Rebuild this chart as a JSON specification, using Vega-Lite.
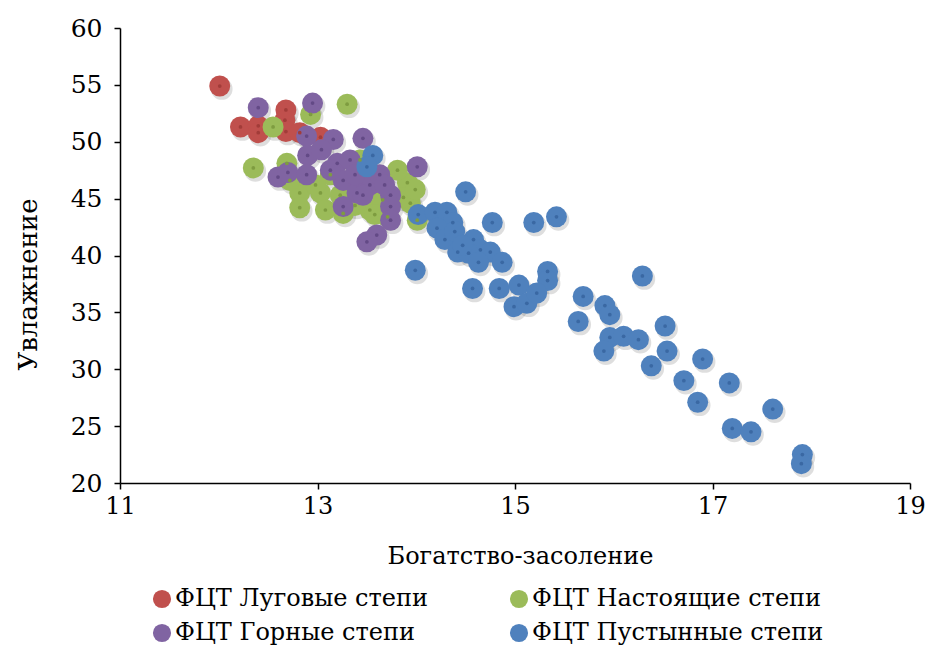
{
  "$schema": "https://vega.github.io/schema/vega-lite/v6.json",
  "width": 790,
  "height": 455,
  "autosize": "none",
  "padding": {"left": 120, "top": 28, "right": 17, "bottom": 165},
  "background": "white",
  "config": {
    "view": {"stroke": null},
    "font": "DejaVu Serif"
  },
  "data": {
    "values": [
      {"x": 12.01, "y": 54.9, "g": "ФЦТ Луговые степи"},
      {"x": 12.22, "y": 51.3, "g": "ФЦТ Луговые степи"},
      {"x": 12.40, "y": 51.4, "g": "ФЦТ Луговые степи"},
      {"x": 12.40, "y": 50.8, "g": "ФЦТ Луговые степи"},
      {"x": 12.68, "y": 52.8, "g": "ФЦТ Луговые степи"},
      {"x": 12.67, "y": 51.9, "g": "ФЦТ Луговые степи"},
      {"x": 12.68, "y": 50.9, "g": "ФЦТ Луговые степи"},
      {"x": 12.82, "y": 50.8, "g": "ФЦТ Луговые степи"},
      {"x": 13.03, "y": 50.4, "g": "ФЦТ Луговые степи"},
      {"x": 13.30, "y": 53.3, "g": "ФЦТ Настоящие степи"},
      {"x": 12.93, "y": 52.4, "g": "ФЦТ Настоящие степи"},
      {"x": 12.55, "y": 51.3, "g": "ФЦТ Настоящие степи"},
      {"x": 12.35, "y": 47.7, "g": "ФЦТ Настоящие степи"},
      {"x": 12.82, "y": 45.5, "g": "ФЦТ Настоящие степи"},
      {"x": 12.82, "y": 44.2, "g": "ФЦТ Настоящие степи"},
      {"x": 13.03, "y": 45.5, "g": "ФЦТ Настоящие степи"},
      {"x": 13.53, "y": 44.0, "g": "ФЦТ Настоящие степи"},
      {"x": 13.91, "y": 46.4, "g": "ФЦТ Настоящие степи"},
      {"x": 14.01, "y": 43.1, "g": "ФЦТ Настоящие степи"},
      {"x": 13.81, "y": 47.5, "g": "ФЦТ Настоящие степи"},
      {"x": 12.69, "y": 48.1, "g": "ФЦТ Настоящие степи"},
      {"x": 12.72, "y": 46.6, "g": "ФЦТ Настоящие степи"},
      {"x": 13.26, "y": 43.7, "g": "ФЦТ Настоящие степи"},
      {"x": 13.71, "y": 43.4, "g": "ФЦТ Настоящие степи"},
      {"x": 13.94, "y": 44.6, "g": "ФЦТ Настоящие степи"},
      {"x": 13.87, "y": 45.1, "g": "ФЦТ Настоящие степи"},
      {"x": 13.13, "y": 47.1, "g": "ФЦТ Настоящие степи"},
      {"x": 13.23, "y": 45.3, "g": "ФЦТ Настоящие степи"},
      {"x": 13.38, "y": 44.4, "g": "ФЦТ Настоящие степи"},
      {"x": 13.99, "y": 45.8, "g": "ФЦТ Настоящие степи"},
      {"x": 13.08, "y": 44.0, "g": "ФЦТ Настоящие степи"},
      {"x": 13.43, "y": 48.4, "g": "ФЦТ Настоящие степи"},
      {"x": 13.66, "y": 44.9, "g": "ФЦТ Настоящие степи"},
      {"x": 12.98, "y": 46.2, "g": "ФЦТ Настоящие степи"},
      {"x": 13.58, "y": 43.6, "g": "ФЦТ Настоящие степи"},
      {"x": 12.40, "y": 53.0, "g": "ФЦТ Горные степи"},
      {"x": 12.95, "y": 53.4, "g": "ФЦТ Горные степи"},
      {"x": 12.89, "y": 50.5, "g": "ФЦТ Горные степи"},
      {"x": 13.16, "y": 50.2, "g": "ФЦТ Горные степи"},
      {"x": 13.46, "y": 50.3, "g": "ФЦТ Горные степи"},
      {"x": 12.90, "y": 48.8, "g": "ФЦТ Горные степи"},
      {"x": 13.04, "y": 49.3, "g": "ФЦТ Горные степи"},
      {"x": 13.20, "y": 48.1, "g": "ФЦТ Горные степи"},
      {"x": 13.33, "y": 48.4, "g": "ФЦТ Горные степи"},
      {"x": 12.60, "y": 46.9, "g": "ФЦТ Горные степи"},
      {"x": 12.70, "y": 47.3, "g": "ФЦТ Горные степи"},
      {"x": 12.89, "y": 47.1, "g": "ФЦТ Горные степи"},
      {"x": 13.26, "y": 46.6, "g": "ФЦТ Горные степи"},
      {"x": 13.53, "y": 46.2, "g": "ФЦТ Горные степи"},
      {"x": 13.40, "y": 45.5, "g": "ФЦТ Горные степи"},
      {"x": 13.74, "y": 45.3, "g": "ФЦТ Горные степи"},
      {"x": 13.74, "y": 44.3, "g": "ФЦТ Горные степи"},
      {"x": 13.26, "y": 44.3, "g": "ФЦТ Горные степи"},
      {"x": 13.74, "y": 43.1, "g": "ФЦТ Горные степи"},
      {"x": 13.60, "y": 41.8, "g": "ФЦТ Горные степи"},
      {"x": 13.50, "y": 41.2, "g": "ФЦТ Горные степи"},
      {"x": 14.01, "y": 47.8, "g": "ФЦТ Горные степи"},
      {"x": 13.46, "y": 45.3, "g": "ФЦТ Горные степи"},
      {"x": 13.63, "y": 47.1, "g": "ФЦТ Горные степи"},
      {"x": 13.68, "y": 46.2, "g": "ФЦТ Горные степи"},
      {"x": 13.13, "y": 47.5, "g": "ФЦТ Горные степи"},
      {"x": 13.38, "y": 47.1, "g": "ФЦТ Горные степи"},
      {"x": 13.56, "y": 48.8, "g": "ФЦТ Пустынные степи"},
      {"x": 13.50, "y": 47.8, "g": "ФЦТ Пустынные степи"},
      {"x": 14.02, "y": 43.6, "g": "ФЦТ Пустынные степи"},
      {"x": 14.50, "y": 45.6, "g": "ФЦТ Пустынные степи"},
      {"x": 14.19, "y": 43.8, "g": "ФЦТ Пустынные степи"},
      {"x": 14.31, "y": 43.8, "g": "ФЦТ Пустынные степи"},
      {"x": 14.37, "y": 42.9, "g": "ФЦТ Пустынные степи"},
      {"x": 14.21, "y": 42.4, "g": "ФЦТ Пустынные степи"},
      {"x": 14.77, "y": 42.9, "g": "ФЦТ Пустынные степи"},
      {"x": 14.29, "y": 41.4, "g": "ФЦТ Пустынные степи"},
      {"x": 14.58, "y": 41.4, "g": "ФЦТ Пустынные степи"},
      {"x": 14.65, "y": 40.5, "g": "ФЦТ Пустынные степи"},
      {"x": 14.42, "y": 40.3, "g": "ФЦТ Пустынные степи"},
      {"x": 14.53, "y": 40.2, "g": "ФЦТ Пустынные степи"},
      {"x": 14.75, "y": 40.3, "g": "ФЦТ Пустынные степи"},
      {"x": 14.87, "y": 39.4, "g": "ФЦТ Пустынные степи"},
      {"x": 14.63, "y": 39.4, "g": "ФЦТ Пустынные степи"},
      {"x": 14.39, "y": 42.1, "g": "ФЦТ Пустынные степи"},
      {"x": 14.47, "y": 40.9, "g": "ФЦТ Пустынные степи"},
      {"x": 13.99, "y": 38.7, "g": "ФЦТ Пустынные степи"},
      {"x": 15.19, "y": 42.9, "g": "ФЦТ Пустынные степи"},
      {"x": 15.42, "y": 43.4, "g": "ФЦТ Пустынные степи"},
      {"x": 14.57, "y": 37.1, "g": "ФЦТ Пустынные степи"},
      {"x": 14.84, "y": 37.1, "g": "ФЦТ Пустынные степи"},
      {"x": 15.04, "y": 37.4, "g": "ФЦТ Пустынные степи"},
      {"x": 15.33, "y": 38.6, "g": "ФЦТ Пустынные степи"},
      {"x": 15.33, "y": 37.8, "g": "ФЦТ Пустынные степи"},
      {"x": 14.99, "y": 35.5, "g": "ФЦТ Пустынные степи"},
      {"x": 15.12, "y": 35.8, "g": "ФЦТ Пустынные степи"},
      {"x": 15.22, "y": 36.7, "g": "ФЦТ Пустынные степи"},
      {"x": 15.69, "y": 36.4, "g": "ФЦТ Пустынные степи"},
      {"x": 15.91, "y": 35.6, "g": "ФЦТ Пустынные степи"},
      {"x": 15.96, "y": 34.8, "g": "ФЦТ Пустынные степи"},
      {"x": 15.64, "y": 34.2, "g": "ФЦТ Пустынные степи"},
      {"x": 16.29, "y": 38.2, "g": "ФЦТ Пустынные степи"},
      {"x": 16.52, "y": 33.8, "g": "ФЦТ Пустынные степи"},
      {"x": 15.96, "y": 32.8, "g": "ФЦТ Пустынные степи"},
      {"x": 16.10, "y": 32.9, "g": "ФЦТ Пустынные степи"},
      {"x": 16.25, "y": 32.6, "g": "ФЦТ Пустынные степи"},
      {"x": 15.90, "y": 31.6, "g": "ФЦТ Пустынные степи"},
      {"x": 16.54, "y": 31.6, "g": "ФЦТ Пустынные степи"},
      {"x": 16.38, "y": 30.3, "g": "ФЦТ Пустынные степи"},
      {"x": 16.90, "y": 30.9, "g": "ФЦТ Пустынные степи"},
      {"x": 16.71, "y": 29.0, "g": "ФЦТ Пустынные степи"},
      {"x": 17.17, "y": 28.8, "g": "ФЦТ Пустынные степи"},
      {"x": 16.85, "y": 27.1, "g": "ФЦТ Пустынные степи"},
      {"x": 17.61, "y": 26.5, "g": "ФЦТ Пустынные степи"},
      {"x": 17.20, "y": 24.8, "g": "ФЦТ Пустынные степи"},
      {"x": 17.39, "y": 24.5, "g": "ФЦТ Пустынные степи"},
      {"x": 17.91, "y": 22.5, "g": "ФЦТ Пустынные степи"},
      {"x": 17.90, "y": 21.7, "g": "ФЦТ Пустынные степи"}
    ]
  },
  "encoding": {
    "x": {
      "field": "x", "type": "quantitative",
      "scale": {"domain": [11, 19], "nice": false, "zero": false},
      "axis": {
        "title": "Богатство-засоление",
        "values": [11, 13, 15, 17, 19],
        "grid": false,
        "domainColor": "black", "domainWidth": 1.5,
        "tickColor": "black", "tickSize": 6, "tickWidth": 1.5,
        "labelFont": "DejaVu Serif", "labelFontSize": 24, "labelColor": "black",
        "labelPadding": 5, "labelFlush": false,
        "titleFont": "DejaVu Serif", "titleFontSize": 24, "titleFontWeight": "normal", "titleColor": "black",
        "titleBaseline": "alphabetic", "titleX": 400, "titleY": 80
      }
    },
    "y": {
      "field": "y", "type": "quantitative",
      "scale": {"domain": [20, 60], "nice": false, "zero": false},
      "axis": {
        "title": "Увлажнение",
        "values": [20, 25, 30, 35, 40, 45, 50, 55, 60],
        "grid": false,
        "domainColor": "black", "domainWidth": 1.5,
        "tickColor": "black", "tickSize": 6, "tickWidth": 1.5,
        "labelFont": "DejaVu Serif", "labelFontSize": 25, "labelColor": "black",
        "labelPadding": 12, "labelFlush": false,
        "titleFont": "DejaVu Serif", "titleFontSize": 26, "titleFontWeight": "normal", "titleColor": "black",
        "titleBaseline": "alphabetic", "titleX": -84, "titleY": 256, "titleAngle": -90
      }
    }
  },
  "layer": [
    {
      "mark": {"type": "circle", "size": 470, "color": "#000000", "opacity": 0.13, "xOffset": 2, "yOffset": 3}
    },
    {
      "mark": {"type": "circle", "size": 440, "opacity": 1},
      "encoding": {
        "color": {
          "field": "g", "type": "nominal",
          "scale": {
            "domain": ["ФЦТ Луговые степи", "ФЦТ Настоящие степи", "ФЦТ Горные степи", "ФЦТ Пустынные степи"],
            "range": ["#C0504D", "#9BBB59", "#8064A2", "#4F81BD"]
          },
          "legend": {
            "title": null,
            "orient": "none",
            "legendX": 30,
            "legendY": 559,
            "direction": "horizontal",
            "columns": 2,
            "padding": 0,
            "columnPadding": 78,
            "rowPadding": 10,
            "symbolType": "circle",
            "symbolSize": 330,
            "symbolOpacity": 1,
            "symbolStrokeWidth": 0,
            "labelFont": "DejaVu Serif",
            "labelFontSize": 24,
            "labelColor": "black",
            "labelOffset": 1,
            "labelLimit": 400
          }
        }
      }
    },
    {
      "mark": {"type": "circle", "size": 14, "opacity": 1},
      "encoding": {
        "color": {
          "field": "g", "type": "nominal",
          "scale": {
            "domain": ["ФЦТ Луговые степи", "ФЦТ Настоящие степи", "ФЦТ Горные степи", "ФЦТ Пустынные степи"],
            "range": ["#A23C39", "#7E9C40", "#634A86", "#3A68A3"]
          },
          "legend": null
        }
      }
    }
  ],
  "resolve": {"scale": {"color": "independent"}}
}
